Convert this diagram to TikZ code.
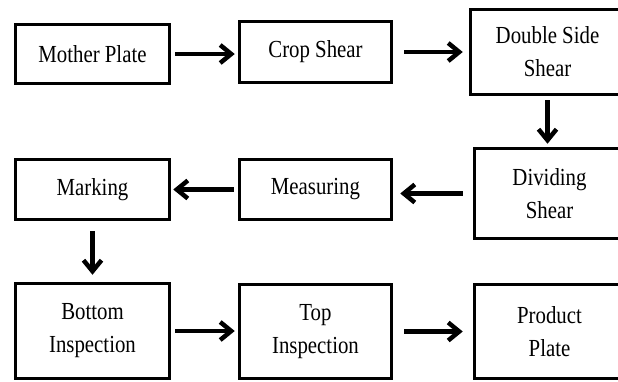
\documentclass[tikz,border=0pt]{standalone}
\usepackage{fontspec}
\setmainfont{Liberation Serif}[FakeStretch=0.85]
\usetikzlibrary{arrows.meta}

\begin{document}
\begin{tikzpicture}[x=1pt, y=-1pt, >={Straight Barb[length=11pt,width=18pt]}]
        \tikzset{
            stage/.style={draw, line width=3.5pt, align=center, inner sep=0pt,
                font=\fontsize{24.5}{33}\selectfont},
            flow/.style={->, line width=4.5pt, shorten <=4pt, shorten >=3pt}
        }
        \clip (0,0) rectangle (618,381);
        \foreach \name/\x/\y/\w/\h/\txt in {
            mother/92.5/54/154/59/Mother Plate,
            crop/315.5/52/152/61/Crop Shear,
            dside/547.5/52/154/85/Double Side\\Shear,
            divide/549.5/193.5/150/90/Dividing\\Shear,
            measure/315.5/189.5/152/60/Measuring,
            marking/92.5/189.5/154/60/Marking,
            bottom/92.5/331/154/95/Bottom\\Inspection,
            top/315.5/331.5/152/94/Top\\Inspection,
            product/549.5/331.5/150/94/Product\\Plate
        }{
            \node[stage, minimum width=\w pt, minimum height=\h pt] (\name) at (\x,\y) {\txt};
        }
        \draw[flow] (mother.east) -- (mother.east -| crop.west);
        \draw[flow, shorten <=11pt, shorten >=6pt] (crop.east) -- (dside.west);
        \draw[flow] (dside.south) -- (dside.south |- divide.north);
        \draw[flow, shorten <=10pt, shorten >=7pt] (divide.west) -- (divide.west -| measure.east);
        \draw[flow, shorten >=2pt] (measure.west) -- (marking.east);
        \draw[flow, shorten <=10pt, shorten >=7pt] (marking.south) -- (bottom.north);
        \draw[flow] (bottom.east) -- (bottom.east -| top.west);
        \draw[flow, shorten <=11pt, shorten >=10pt] (top.east) -- (top.east -| product.west);
    \end{tikzpicture}
\end{document}
